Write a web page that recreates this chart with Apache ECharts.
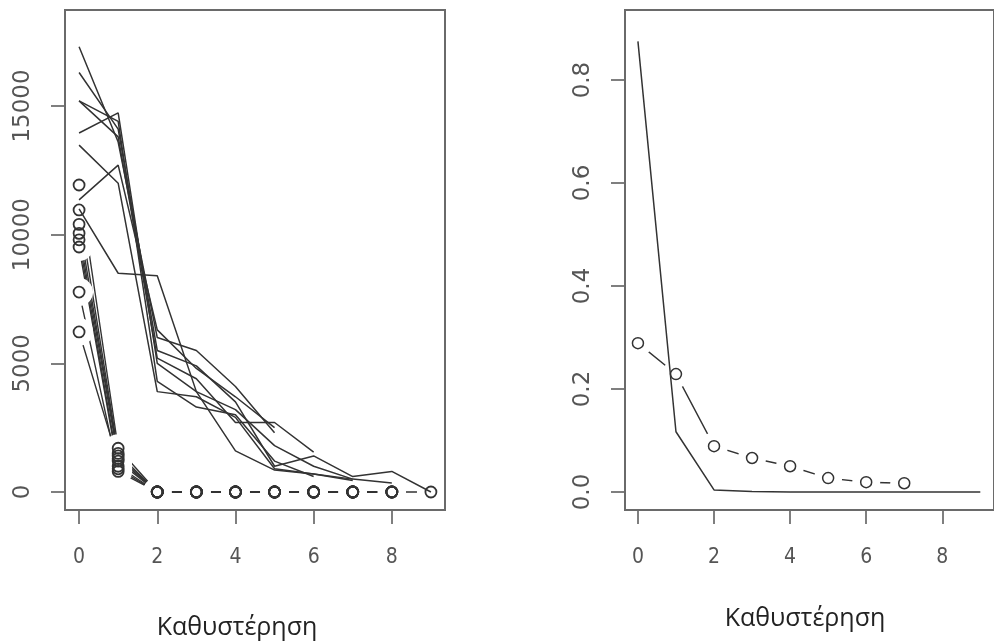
<!DOCTYPE html>
<html>
<head>
<meta charset="utf-8">
<title>Καθυστέρηση</title>
<script src="https://cdn.jsdelivr.net/npm/echarts@6/dist/echarts.min.js"></script>
<style>
  html, body { margin: 0; padding: 0; background: #fff; }
  #chart { width: 994px; height: 644px; }
</style>
</head>
<body>
<div id="chart"></div>
<script>
// lags shared by both panels
const lags = [0, 1, 2, 3, 4, 5, 6, 7, 8, 9];

// left panel: solid lines
const solidA = [17300, 13600, 6000, 5500, 4100, 2300];
const solidB = [16300, 14100, 5500, 4900, 3500, 1000, 1400, 600, 800, 0];
const solidC = [15200, 13800, 5200, 4400, 2700, 2700, 1550];
const solidD = [13950, 14730, 5000, 3900, 3200, 1800, 1000, 500];
const solidE = [13480, 12000, 3900, 3700, 2900, 900, 700, 450];
const solidF = [11350, 12700, 6300, 4800, 3700, 2500];
const solidG = [11000, 8500, 8400, 3900, 1600, 850, 700, 500, 350];
const solidH = [15200, 14400, 4300, 3300, 3000, 1200, 600];

// left panel: circle series (dashed, gaps around points)
const circA = [11930, 1700, 0, 0, 0, 0, 0, 0, 0];
const circB = [10960, 1500, 0, 0, 0, 0, 0, 0, 0];
const circC = [10400, 1400, 0, 0, 0, 0, 0, 0, 0, 0];
const circD = [10050, 1300, 0, 0, 0, 0, 0, 0];
const circE = [9800, 1000, 0, 0, 0, 0, 0, 0, 0];
const circF = [9520, 900, 0, 0, 0, 0, 0, 0];
const circG = [7770, 800, 0, 0, 0, 0, 0, 0, 0];
const circH = [6220, 1200, 0, 0, 0, 0, 0, 0];

// right panel
const rightSolid = [0.875, 0.117, 0.004, 0.001, 0, 0, 0, 0, 0, 0];
const rightCirc = [0.289, 0.229, 0.089, 0.066, 0.050, 0.027, 0.019, 0.017];

// ticks
const xTicks = [0, 2, 4, 6, 8];
const leftYTicks = [0, 5000, 10000, 15000];
const rightYTicks = [0, 0.2, 0.4, 0.6, 0.8];

const LINE = '#333';

function pairs(vals) {
  return vals.map((v, i) => [lags[i], v]);
}

// builds the four layers for one panel: circle lines, white gaps, solid lines, circles
function panelSeries(idx, solids, circles, circleWidth) {
  const out = [];
  const allPts = [];
  circles.forEach(c => {
    out.push({
      type: 'line', xAxisIndex: idx, yAxisIndex: idx, z: 2,
      data: pairs(c), symbol: 'none', silent: true,
      lineStyle: { color: LINE, width: 1.4 }
    });
    pairs(c).forEach(p => allPts.push(p));
  });
  out.push({
    type: 'scatter', xAxisIndex: idx, yAxisIndex: idx, z: 3,
    data: allPts, symbol: 'circle', symbolSize: 28, silent: true,
    itemStyle: { color: '#fff', opacity: 1 }
  });
  solids.forEach(s => {
    out.push({
      type: 'line', xAxisIndex: idx, yAxisIndex: idx, z: 4,
      data: pairs(s), symbol: 'none', silent: true,
      lineStyle: { color: LINE, width: 1.5 }
    });
  });
  out.push({
    type: 'scatter', xAxisIndex: idx, yAxisIndex: idx, z: 5,
    data: allPts, symbol: 'circle', symbolSize: 11, silent: true,
    itemStyle: { color: 'rgba(0,0,0,0)', borderColor: LINE, borderWidth: circleWidth, opacity: 1 }
  });
  return out;
}

function xAxisFor(idx, min, max) {
  return {
    type: 'value', gridIndex: idx, min: min, max: max,
    axisLine: { show: false, onZero: false },
    splitLine: { show: false },
    axisTick: { show: true, length: 14, customValues: xTicks, lineStyle: { color: '#555', width: 1.5 } },
    axisLabel: {
      customValues: xTicks, margin: 37, color: '#555', fontSize: 21,
      fontFamily: '"Liberation Sans Narrow", "DejaVu Sans Condensed", sans-serif'
    }
  };
}

function yAxisFor(idx, min, max, ticks) {
  return {
    type: 'value', gridIndex: idx, min: min, max: max,
    axisLine: { show: false, onZero: false },
    splitLine: { show: false },
    axisTick: { show: true, length: 14, customValues: ticks, lineStyle: { color: '#555', width: 1.5 } },
    axisLabel: {
      customValues: ticks, rotate: 90, margin: 30, color: '#555', fontSize: 23,
      fontFamily: '"DejaVu Sans", sans-serif',
      formatter: v => (idx === 1 ? v.toFixed(1) : String(v))
    }
  };
}

const chart = echarts.init(document.getElementById('chart'), null, { renderer: 'canvas' });

const gridBox = { show: true, borderColor: '#6a6a6a', borderWidth: 2, backgroundColor: 'transparent', z: 10 };

const option = {
  animation: false,
  backgroundColor: '#fff',
  grid: [
    Object.assign({ left: 65, top: 10, width: 380, height: 500 }, gridBox),
    Object.assign({ left: 625, top: 10, width: 379, height: 500 }, gridBox)
  ],
  xAxis: [xAxisFor(0, -0.36, 9.36), xAxisFor(1, -0.34, 9.36)],
  yAxis: [yAxisFor(0, -700, 18730, leftYTicks), yAxisFor(1, -0.035, 0.936, rightYTicks)],
  series: [].concat(
    panelSeries(0,
      [solidA, solidB, solidC, solidD, solidE, solidF, solidG, solidH],
      [circA, circB, circC, circD, circE, circF, circG, circH], 1.8),
    panelSeries(1, [rightSolid], [rightCirc], 1.5)
  ),
  graphic: [
    {
      type: 'text', x: 237, y: 628, silent: true,
      style: { text: 'Καθυστέρηση', fill: '#222', font: '25px "Open Sans", sans-serif', align: 'center', verticalAlign: 'middle' }
    },
    {
      type: 'text', x: 805, y: 619, silent: true,
      style: { text: 'Καθυστέρηση', fill: '#222', font: '25px "Open Sans", sans-serif', align: 'center', verticalAlign: 'middle' }
    }
  ]
};

chart.setOption(option);
</script>
</body>
</html>
